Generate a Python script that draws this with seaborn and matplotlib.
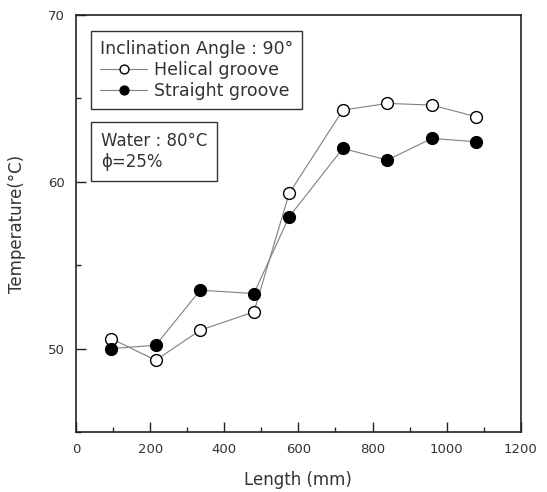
import matplotlib
matplotlib.use("Agg")
import matplotlib.pyplot as plt
import seaborn as sns
import pandas as pd
from matplotlib.ticker import MultipleLocator

# data
length_mm = [95, 215, 335, 480, 575, 720, 840, 960, 1080]
helical = [50.6, 49.3, 51.1, 52.2, 59.3, 64.3, 64.7, 64.6, 63.9]
straight = [50.0, 50.2, 53.5, 53.3, 57.9, 62.0, 61.3, 62.6, 62.4]

df = pd.DataFrame({"Length": length_mm, "Helical groove": helical,
                   "Straight groove": straight})

sns.set_style("ticks")
plt.rcParams['font.family'] = ['DejaVu Sans']
txt = "#333333"

fig, ax = plt.subplots(figsize=(5.47, 4.92), dpi=100)
fig.subplots_adjust(left=0.139, right=0.952, top=0.9695, bottom=0.122)

sns.lineplot(data=df, x="Length", y="Helical groove", ax=ax, color="#808080",
             lw=0.8, marker="o", ms=8.5, mfc="white", mec="black", mew=1.0,
             label="Helical groove")
sns.lineplot(data=df, x="Length", y="Straight groove", ax=ax, color="#808080",
             lw=0.8, marker="o", ms=8.5, mfc="black", mec="black", mew=1.0,
             label="Straight groove")

ax.set_xlim(0, 1200)
ax.set_ylim(45, 70)
ax.xaxis.set_major_locator(MultipleLocator(200))
ax.xaxis.set_minor_locator(MultipleLocator(100))
ax.yaxis.set_major_locator(MultipleLocator(10))
ax.yaxis.set_minor_locator(MultipleLocator(5))
ax.tick_params(which="major", direction="in", length=7, width=1, labelsize=9.5,
               colors="#222222", labelcolor=txt, pad=8)
ax.tick_params(which="minor", direction="in", length=3.5, width=1)
for s in ax.spines.values():
    s.set_linewidth(1.2)
    s.set_color("#222222")

ax.set_xlabel("Length (mm)", fontsize=12, color=txt, labelpad=11)
ax.set_ylabel("Temperature(\u00b0C)", fontsize=12, color=txt, labelpad=16)

leg = ax.legend(title="Inclination Angle : 90\u00b0", loc="upper left",
                bbox_to_anchor=(0.0337, 0.962), fontsize=12.5, title_fontsize=12.5,
                alignment="left", handlelength=2.75, handletextpad=0.4,
                labelspacing=0.2, borderpad=0.5, markerscale=0.75, fancybox=False,
                framealpha=1, edgecolor="#333333", borderaxespad=0,
                labelcolor=txt)
leg.get_frame().set_linewidth(1.0)
leg.get_title().set_color(txt)

ax.text(0.0553, 0.720, "Water : 80\u00b0C\n\u03d5=25%", transform=ax.transAxes,
        fontsize=12, va="top", ha="left", linespacing=1.2, color=txt,
        bbox=dict(boxstyle="square,pad=0.6", fc="white", ec="#333333", lw=1.0))

fig.savefig("out.png", dpi=100)
